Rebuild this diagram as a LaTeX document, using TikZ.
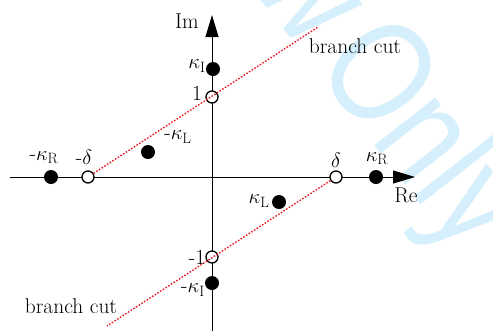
\documentclass[tikz,border=0pt]{standalone}
\usepackage{fontspec}
\newfontfamily\wmfont{Liberation Sans}
\usetikzlibrary{arrows.meta}
\definecolor{wmblue}{RGB}{214,239,252}
\definecolor{cutred}{RGB}{235,30,45}
\tikzset{
  lab/.style={font=\fontsize{21.5}{24}\selectfont, inner sep=0pt},
  wmtext/.style={wmblue, font=\wmfont\fontsize{118}{120}\selectfont, inner sep=0pt, rotate=-52, yscale=1.25},
  filledpt/.style={circle, fill=black, minimum size=14bp, inner sep=0pt},
  openpt/.style={circle, draw=black, fill=white, line width=1.3bp, minimum size=12bp, inner sep=0pt},
  axisline/.style={line width=1bp, -{Triangle[length=22bp, width=13bp]}},
  cutline/.style={cutred, line width=1.4bp, dash pattern=on 1.6bp off 1.6bp},
}
\begin{document}
\begin{tikzpicture}[x=1bp, y=-1bp]
\useasboundingbox (0,0) rectangle (493,331);
% watermark
\coordinate (wmS) at (313,67);
\coordinate (wmR) at (302,53);
\node[wmtext, anchor=base east] (wmA) at (wmR) {Review\ };
\node[wmtext, anchor=base west] (wmB) at (wmS) {Only};
% axes
\coordinate (xl) at (10,177);
\coordinate (xr) at (415,177);
\coordinate (yb) at (212,331);
\coordinate (yt) at (212,15);
\draw[axisline] (xl) -- (xr);
\draw[axisline] (yb) -- (yt);
% points
\node[openpt] (one) at (212,97) {};
\node[openpt] (mone) at (212,257) {};
\node[openpt] (del) at (336,177) {};
\node[openpt] (mdel) at (88,177) {};
\node[filledpt] (kI) at (213,69) {};
\node[filledpt] (mkI) at (212,283) {};
\node[filledpt] (kR) at (376,177) {};
\node[filledpt] (mkR) at (51,177) {};
\node[filledpt] (kL) at (279,202) {};
\node[filledpt] (mkL) at (148,152) {};
% branch cuts
\coordinate (cutU) at (318,27);
\coordinate (cutD) at (107,326);
\draw[cutline] (mdel) -- (cutU);
\draw[cutline] (del) -- (cutD);
% labels
\node[lab] (lIm) at (187,21) {Im};
\node[lab] (lRe) at (406,195) {Re};
\node[lab] (lkI) at (197,66) {$\kappa_{\mathrm{I}}$};
\node[lab] (lone) at (197,93) {1};
\node[lab] (lmone) at (197,257) {-1};
\node[lab] (lmkI) at (193,290) {-$\kappa_{\mathrm{I}}$};
\node[lab] (lmkR) at (44,158) {-$\kappa_{\mathrm{R}}$};
\node[lab] (lmdel) at (84,157) {-$\delta$};
\node[lab] (lmkL) at (178,137) {-$\kappa_{\mathrm{L}}$};
\node[lab] (ldel) at (336,160) {$\delta$};
\node[lab] (lkR) at (377,159) {$\kappa_{\mathrm{R}}$};
\node[lab] (lkL) at (259,201) {$\kappa_{\mathrm{L}}$};
\node[lab] (lcutU) at (355,46) {branch cut};
\node[lab] (lcutD) at (71,306) {branch cut};
\end{tikzpicture}
\end{document}
